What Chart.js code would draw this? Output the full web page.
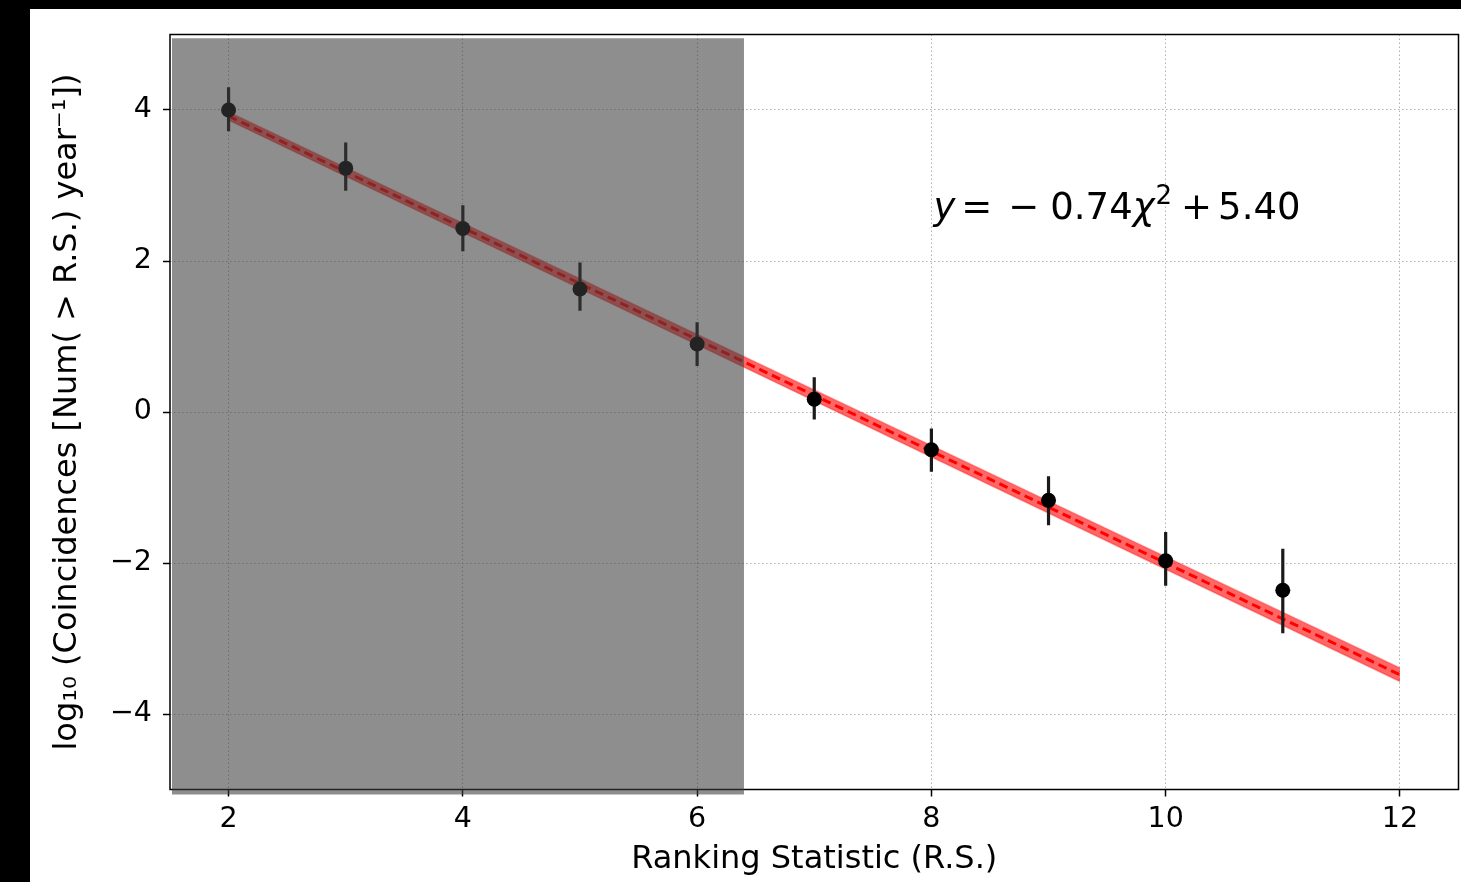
<!DOCTYPE html>
<html>
<head>
<meta charset="utf-8">
<script src="https://cdn.jsdelivr.net/npm/chart.js@4/dist/chart.umd.min.js"></script>
<style>
  html, body { margin: 0; padding: 0; background: #000; }
  #wrap { position: absolute; left: 30px; top: 9px; width: 1431px; height: 873px; background: #fff; }
  canvas { display: block; }
</style>
</head>
<body>
<div id="wrap"><canvas id="rankChart" width="1431" height="873"></canvas></div>
<script>
// ranking statistic bins and log10 coincidence rates
const rankStat = [2, 3, 4, 5, 6, 7, 8, 9, 10, 11];
const logRate = [4.00, 3.23, 2.43, 1.63, 0.90, 0.17, -0.50, -1.17, -1.97, -2.36];
const errUp = [0.30, 0.34, 0.31, 0.35, 0.29, 0.29, 0.28, 0.32, 0.38, 0.55];
const errDown = [0.28, 0.30, 0.30, 0.29, 0.29, 0.27, 0.29, 0.33, 0.33, 0.57];

// linear fit y = slope * x + intercept, with its uncertainty band
const fitSlope = -0.74;
const fitIntercept = 5.40;
const fitX = [2, 12];
const bandHalf = [0.055, 0.09];

// excluded (shaded) region of the ranking statistic
const shadeTo = 6.4;
const shadeTop = 4.95;

const xTicks = [2, 4, 6, 8, 10, 12];
const yTicks = [-4, -2, 0, 2, 4];

const FONT = "DejaVu Sans";

const fitLine = fitX.map(x => ({ x: x, y: fitSlope * x + fitIntercept }));
const bandHigh = fitX.map((x, i) => ({ x: x, y: fitSlope * x + fitIntercept + bandHalf[i] }));
const bandLow = fitX.map((x, i) => ({ x: x, y: fitSlope * x + fitIntercept - bandHalf[i] }));

// error bars as broken line segments
const errSegs = [];
rankStat.forEach((x, i) => {
  errSegs.push({ x: x, y: logRate[i] - errDown[i] });
  errSegs.push({ x: x, y: logRate[i] + errUp[i] });
  errSegs.push({ x: x, y: null });
});

const points = rankStat.map((x, i) => ({ x: x, y: logRate[i] }));

const shadePlugin = {
  id: "shade",
  afterDatasetsDraw(chart) {
    const { ctx, chartArea, scales } = chart;
    const xs = scales.x, ys = scales.y;
    ctx.save();
    // axes frame
    ctx.strokeStyle = "#000";
    ctx.lineWidth = 1.5;
    ctx.strokeRect(chartArea.left, chartArea.top, chartArea.right - chartArea.left, chartArea.bottom - chartArea.top);
    // shaded region on top of everything
    const x0 = chartArea.left + 2;
    const x1 = xs.getPixelForValue(shadeTo);
    const y0 = ys.getPixelForValue(shadeTop);
    const y1 = chartArea.bottom + 5;
    ctx.fillStyle = "rgba(60,60,60,0.58)";
    ctx.fillRect(x0, y0, x1 - x0, y1 - y0);
    ctx.restore();
  },
  afterDraw(chart) {
    const { ctx, scales } = chart;
    const px = scales.x.getPixelForValue(8) + 2;
    const py = scales.y.getPixelForValue(2.55);
    const size = 37;
    const pieces = [
      { t: "y", f: "italic " + size + "px " + FONT, gap: 0, dy: 0 },
      { t: "=", f: size + "px " + FONT, gap: 6, dy: 0 },
      { t: "\u2212", f: size + "px " + FONT, gap: 16, dy: 0 },
      { t: "0.74", f: size + "px " + FONT, gap: 11, dy: 0 },
      { t: "\u03c7", f: "italic " + size + "px " + FONT, gap: 0, dy: 0 },
      { t: "2", f: Math.round(size * 0.7) + "px " + FONT, gap: 1, dy: -15 },
      { t: "+", f: size + "px " + FONT, gap: 9, dy: 0 },
      { t: "5.40", f: size + "px " + FONT, gap: 6, dy: 0 }
    ];
    ctx.save();
    ctx.fillStyle = "#000";
    ctx.textBaseline = "alphabetic";
    ctx.textAlign = "left";
    let cx = px;
    pieces.forEach(p => {
      ctx.font = p.f;
      cx += p.gap;
      ctx.fillText(p.t, cx, py + p.dy);
      cx += ctx.measureText(p.t).width;
    });
    ctx.restore();
  }
};

const gridCommon = {
  color: "#b0b0b0",
  lineWidth: 1,
  drawTicks: true,
  tickLength: 7,
  tickColor: "#000",
  tickWidth: 1.5
};

new Chart(document.getElementById("rankChart"), {
  type: "scatter",
  data: {
    datasets: [
      {
        label: "data",
        data: points,
        pointRadius: 7.5,
        pointHoverRadius: 7.5,
        pointBackgroundColor: "#000",
        pointBorderColor: "#000",
        pointBorderWidth: 0,
        showLine: false
      },
      {
        label: "errors",
        data: errSegs,
        showLine: true,
        spanGaps: false,
        pointRadius: 0,
        borderColor: "#1a1a1a",
        borderWidth: 3.2
      },
      {
        label: "fit",
        data: fitLine,
        showLine: true,
        pointRadius: 0,
        borderColor: "#ff0000",
        borderWidth: 3,
        borderDash: [9, 5]
      },
      {
        label: "band high",
        data: bandHigh,
        showLine: true,
        pointRadius: 0,
        borderColor: "rgba(255,0,0,0.35)",
        borderWidth: 1.5,
        backgroundColor: "rgba(255,0,0,0.6)",
        fill: "+1"
      },
      {
        label: "band low",
        data: bandLow,
        showLine: true,
        pointRadius: 0,
        borderColor: "rgba(255,0,0,0.35)",
        borderWidth: 1.5
      }
    ]
  },
  options: {
    responsive: false,
    animation: false,
    events: [],
    layout: { autoPadding: false, padding: { left: 0, right: 2.5, top: 25.5, bottom: 0 } },
    plugins: {
      legend: { display: false },
      tooltip: { enabled: false }
    },
    scales: {
      x: {
        type: "linear",
        min: 1.5,
        max: 12.5,
        afterBuildTicks: axis => { axis.ticks = xTicks.map(v => ({ value: v })); },
        afterFit: axis => {
          axis.height = 92.5;
          axis.paddingLeft = 0;
          axis.paddingRight = 0;
        },
        grid: gridCommon,
        border: { display: false, dash: [1.5, 2.5] },
        ticks: {
          color: "#000",
          font: { family: FONT, size: 28.5 },
          padding: 6,
          maxRotation: 0,
          autoSkip: false
        },
        title: {
          display: true,
          text: "Ranking Statistic (R.S.)",
          color: "#000",
          font: { family: FONT, size: 32 },
          padding: { top: 0, bottom: 3 }
        }
      },
      y: {
        type: "linear",
        min: -5,
        max: 5,
        afterBuildTicks: axis => { axis.ticks = yTicks.map(v => ({ value: v })); },
        afterFit: axis => {
          axis.width = 140;
          axis.paddingTop = 0;
          axis.paddingBottom = 0;
        },
        grid: gridCommon,
        border: { display: false, dash: [1.5, 2.5] },
        ticks: {
          color: "#000",
          font: { family: FONT, size: 28.5 },
          padding: 11,
          callback: v => String(v).replace("-", "\u2212")
        },
        title: {
          display: true,
          text: "log\u2081\u2080 (Coincidences [Num( > R.S.) year\u207b\u00b9])",
          color: "#000",
          font: { family: FONT, size: 32 },
          padding: { top: 18, bottom: 0 }
        }
      }
    }
  },
  plugins: [shadePlugin]
});
</script>
</body>
</html>
